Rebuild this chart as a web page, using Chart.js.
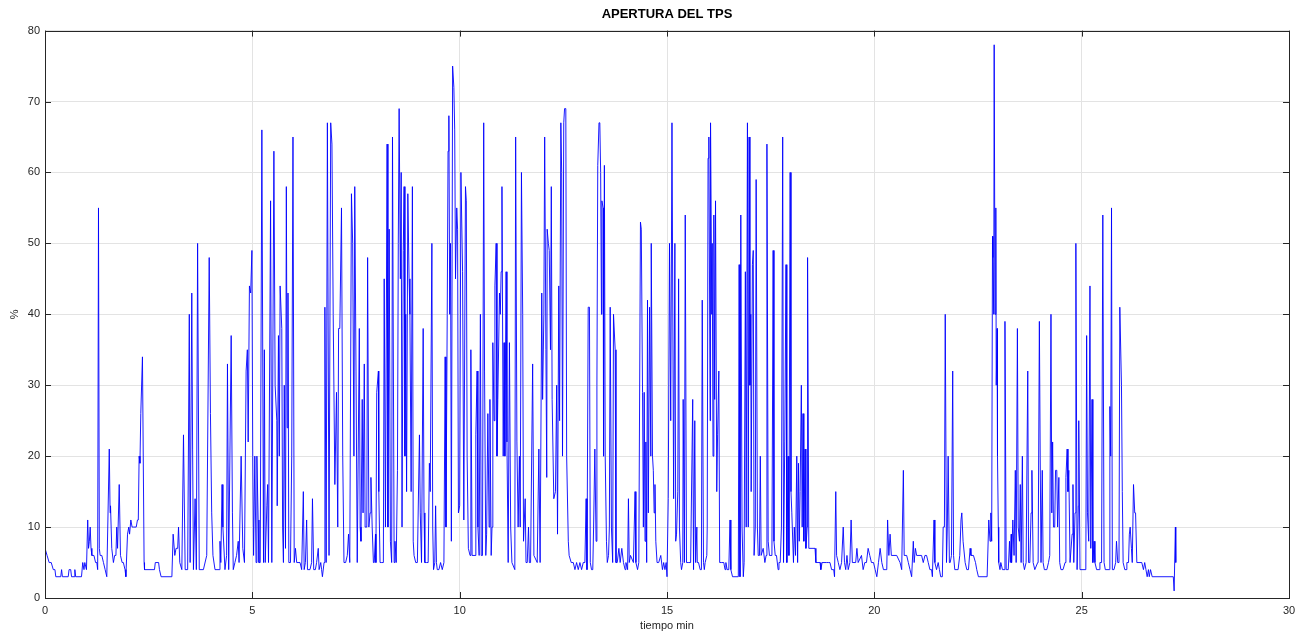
<!DOCTYPE html>
<html>
<head>
<meta charset="utf-8">
<title>APERTURA DEL TPS</title>
<script src="https://cdn.jsdelivr.net/npm/chart.js@4.4.1/dist/chart.umd.min.js"></script>
<style>
    html, body { margin: 0; padding: 0; background: #ffffff; }
    #wrap { width: 1307px; height: 634px; }
</style>
</head>
<body>
<div id="wrap"><canvas id="tpsChart" width="1307" height="634"></canvas></div>
<script>
// tiempo (min) / apertura TPS (%), por tramos
const tiempoA = [0,0.05,0.1,0.15,0.2,0.24,0.26,0.38,0.40,0.42, 0.56,0.58,0.62,0.64,0.70,0.72,0.74,0.88,0.91,0.94, 0.96,1.0,1.03,1.05,1.07,1.09,1.11,1.13,1.18,1.22, 1.25,1.27,1.29,1.31,1.33,1.37,1.41,1.45,1.49,1.55, 1.57,1.58,1.61,1.65,1.68,1.71,1.73,1.75,1.79,1.82, 1.86,1.89,1.93,1.95,1.99,2.02,2.04,2.07,2.10,2.13, 2.2,2.23,2.25,2.27,2.29,2.31,2.35,2.39,2.40,2.64, 2.66,2.74,2.76,2.80,3.06];
const tpsA    = [7,6,5,5,4,4,3,3,4,3, 3,4,4,3,3,4,3,3,5,4, 5,4,11,7,8,10,7,6,6,5, 5,4,55,7,6,6,5,4,3,21, 12,13,7,5,6,6,10,7,16,6, 5,5,4,3,9,10,9,11,10,10, 10,11,11,20,19,26,34,5,4,4, 5,5,4,3,3];

const tiempoB = [3.09,3.13,3.16,3.20,3.22,3.25,3.30,3.34,3.38,3.44, 3.48,3.50,3.54,3.56,3.58,3.62,3.65,3.68,3.72,3.82, 3.90,3.96,3.99,4.02,4.05,4.1,4.2,4.22,4.24,4.27, 4.29,4.34,4.38,4.40,4.43,4.49,4.52,4.54,4.58,4.62, 4.66,4.68,4.73,4.77,4.81,4.85,4.88,4.90,4.93,4.96, 4.99,5.01,5.03];
const tpsB    = [9,6,7,7,10,5,4,23,4,4, 40,5,43,21,4,14,4,50,4,4, 6,48,26,12,6,4,4,8,5,16, 10,4,6,33,4,37,12,4,5,6, 8,5,20,7,5,32,35,22,44,43, 49,20,6];

const tiempoC = [5.06,5.09,5.11,5.14,5.16,5.19,5.23,5.27,5.29,5.31, 5.35,5.37,5.39,5.44,5.47,5.52,5.55,5.59,5.60,5.63, 5.65,5.67,5.71,5.73,5.75,5.77,5.80,5.82,5.84,5.86, 5.88,5.92,5.95,5.98,6.01,6.04,6.07,6.15,6.19,6.23, 6.25,6.28,6.31,6.33,6.39,6.43,6.45,6.48,6.52,6.55, 6.59,6.61,6.65,6.67,6.69,6.73,6.75,6.78,6.81,6.85, 6.89,6.92,6.95,6.99,7.03,7.06,7.08,7.11,7.15,7.18, 7.21,7.25,7.29,7.32,7.35,7.39,7.42,7.45,7.47,7.50, 7.53,7.58];
const tpsC    = [20,5,20,11,5,5,66,5,35,5, 13,16,5,56,5,63,30,25,13,37, 20,44,38,10,5,30,7,58,24,43, 5,5,20,65,5,7,5,5,4,15, 4,5,11,4,4,5,14,4,4,5, 7,4,5,4,3,5,41,5,67,6, 67,64,40,16,29,10,38,38,55,20, 5,5,6,9,5,57,50,20,58,32, 5,38];

const tiempoD = [7.60,7.62,7.65,7.67,7.70,7.72,7.76,7.78,7.81,7.84, 7.86,7.89,7.92,7.94,7.97,7.98,8.0,8.04,8.05,8.08, 8.12,8.16,8.18,8.21,8.25,8.27,8.30,8.33,8.36,8.38, 8.42,8.44,8.47,8.50,8.52,8.54,8.57,8.59,8.61,8.64, 8.66,8.68,8.70,8.72,8.75,8.78,8.80,8.83,8.86,8.88, 8.90,8.94,8.98,9.03,9.05,9.08,9.12,9.14,9.16,9.20, 9.24,9.27,9.29,9.33,9.35,9.37,9.40,9.42,9.44,9.46, 9.50,9.54,9.58,9.62,9.65,9.67,9.70,9.72,9.74,9.76, 9.78,9.80,9.83,9.86,9.88,9.90,9.93,9.95,9.97,10.0, 10.03];
const tpsD    = [10,8,28,12,33,10,10,48,10,12, 17,10,5,5,9,5,29,32,15,5, 5,5,45,10,64,10,52,8,5,65, 5,8,5,18,50,69,45,60,10,49, 58,20,40,15,57,45,40,15,58,8, 6,5,5,23,12,5,38,12,5,5, 5,19,15,50,10,4,5,13,5,4, 4,5,4,5,34,10,40,63,68,40, 50,8,75,72,66,45,55,52,12,13, 60];

const tiempoE = [10.07,10.10,10.14,10.16,10.18,10.21,10.25,10.27,10.30,10.37, 10.39,10.42,10.44,10.47,10.50,10.52,10.55,10.58,10.60,10.63, 10.65,10.68,10.71,10.73,10.76,10.78,10.80,10.83,10.85,10.88, 10.90,10.92,10.96,10.98,11.0,11.02,11.05,11.07,11.09,11.12, 11.14,11.17,11.20,11.23,11.26,11.33,11.35,11.38,11.41,11.44, 11.46,11.49,11.52,11.54,11.58,11.60,11.63,11.66,11.68,11.71, 11.76,11.79,11.87,11.91,11.94,11.98,12.0,12.03,12.05,12.08, 12.10,12.11,12.14,12.16,12.19,12.21,12.23,12.27,12.31,12.34, 12.36,12.39,12.41,12.44,12.46,12.48,12.51,12.53,12.56,12.58, 12.62];
const tpsE    = [46,11,58,56,20,7,6,35,6,6, 23,32,10,6,40,6,6,67,32,6, 9,26,10,28,6,10,36,25,44,50, 20,28,43,40,46,58,20,36,20,46, 22,5,36,10,5,4,65,22,10,20, 10,60,40,8,14,5,5,10,5,5, 33,6,5,21,5,43,28,40,65,35, 17,52,50,49,35,58,28,14,15,30, 9,44,25,67,60,20,67,69,69,20, 8];

const tiempoF = [12.64,12.69,12.74,12.78,12.82,12.86,12.90,12.94,12.98,13.02, 13.05,13.07,13.10,13.13,13.15,13.18,13.21,13.23,13.26,13.29, 13.31,13.33,13.36,13.38,13.40,13.42,13.43,13.46,13.47,13.49, 13.51,13.54,13.56,13.59,13.61,13.63,13.66,13.69,13.71,13.75, 13.77,13.80,13.84,13.87,13.91,13.95,13.99,14.01,14.05,14.07, 14.09,14.12,14.19,14.23,14.25,14.29,14.32,14.36,14.38,14.41, 14.43,14.45,14.47,14.49,14.51,14.53,14.55,14.58,14.61,14.62, 14.65,14.67,14.69,14.71,14.73,14.76,14.80,14.85,14.89,14.92, 14.95,14.98,15.0,15.03,15.06,15.09];
const tpsF    = [6,5,5,4,5,4,5,4,5,5, 14,4,41,41,5,4,4,10,21,8, 30,61,67,67,60,40,56,55,20,61, 20,8,5,6,10,41,10,5,40,35, 5,5,7,5,7,5,4,5,4,14, 5,6,5,15,5,4,5,53,52,29, 10,29,8,22,5,42,12,41,20,50, 20,18,12,16,8,5,5,6,4,5, 4,5,3,14,50,25];

const tiempoG = [15.12,15.16,15.19,15.21,15.23,15.26,15.28,15.30,15.33,15.35, 15.38,15.39,15.42,15.44,15.47,15.51,15.57,15.62,15.64,15.67, 15.69,15.72,15.73,15.76,15.80,15.83,15.85,15.88,15.90,15.92, 15.96,15.97,15.99,16.01,16.04,16.05,16.08,16.09,16.11,16.13, 16.15,16.17,16.20,16.22,16.25,16.27,16.32,16.37,16.40,16.42, 16.45,16.49,16.52,16.54,16.58,16.72,16.74,16.76,16.78,16.81, 16.84,16.86,16.89,16.91,16.94,16.96,16.98,17.00,17.02,17.03, 17.06,17.08,17.10,17.13,17.15,17.18,17.20,17.23,17.25,17.27, 17.32,17.36,17.39,17.41,17.44,17.47,17.53,17.56,17.58,17.61, 17.64,17.68];
const tpsG    = [67,14,50,8,9,15,45,10,5,4, 5,28,5,54,5,5,5,28,4,25, 5,10,5,5,4,4,42,5,4,5, 6,10,62,65,25,67,40,50,20,54, 28,56,15,23,32,5,5,5,4,5, 4,4,11,4,3,3,47,3,54,10, 3,5,46,10,67,10,65,30,40,15, 47,49,6,10,59,10,6,6,20,6, 7,5,6,64,8,6,6,49,8,6, 6,4];

const tiempoH = [17.70,17.73,17.76,17.79,17.81,17.84,17.87,17.89,17.92,17.94, 17.97,17.99,18.01,18.05,18.07,18.10,18.13,18.15,18.17,18.19, 18.21,18.24,18.26,18.28,18.30,18.33,18.35,18.38,18.39,18.42, 18.57,18.59,18.69,18.71,18.74,18.85,18.89,18.93,18.97,19.02, 19.04,19.07,19.09,19.13,19.17,19.21,19.25,19.28,19.31,19.34, 19.37,19.41,19.44,19.47,19.55,19.58,19.61,19.69,19.73,19.77, 19.81,19.85,19.89,19.93,19.98,20.02,20.06,20.10,20.14];
const tpsH    = [5,5,10,65,5,22,47,5,20,6, 60,15,12,5,10,6,20,5,19,8, 15,30,10,26,8,21,7,10,48,7, 7,5,5,4,5,5,5,5,4,4, 3,15,6,5,4,5,10,5,4,6, 4,5,11,5,5,7,5,6,4,5, 5,7,6,5,5,4,3,5,7];

const tiempoI = [20.18,20.22,20.26,20.30,20.32,20.35,20.38,20.41,20.54,20.62, 20.66,20.70,20.72,20.78,20.82,20.86,20.90,20.94,20.96,20.99, 21.02,21.14,21.18,21.22,21.26,21.30,21.34,21.38,21.40,21.44, 21.46,21.50,21.54,21.57,21.60,21.64,21.66,21.69,21.71,21.74, 21.76,21.78,21.81,21.83,21.86,21.89,21.91,21.94,22.02,22.06, 22.09,22.11,22.14,22.16,22.19,22.23,22.27,22.31,22.33,22.39, 22.44,22.47,22.51,22.72,22.76];
const tpsI    = [5,4,4,4,11,6,9,6,6,5, 4,18,6,6,5,4,3,8,5,7, 6,6,5,6,6,5,4,4,3,11, 5,4,5,4,3,3,10,10,40,5, 10,20,5,5,6,32,6,4,4,6, 11,12,8,8,5,4,4,7,6,6, 5,4,3,3,11];

const tiempoJ = [22.79,22.81,22.83,22.85,22.86,22.88,22.89,22.91,22.93,22.94, 22.96,22.97,22.99,23.00,23.03,23.05,23.09,23.13,23.15,23.18, 23.23,23.26,23.28,23.30,23.31,23.34,23.37,23.40,23.42,23.45, 23.47,23.50,23.52,23.54,23.57,23.59,23.62,23.66,23.70,23.72, 23.75,23.78,23.80,23.83,23.85,23.87,23.94,23.95,23.98,24.00, 24.02,24.05,24.07,24.10,24.16,24.20,24.23,24.26,24.28,24.30, 24.32,24.35,24.37,24.40,24.42,24.45,24.47,24.50,24.55,24.60, 24.62,24.65,24.67,24.69,24.72,24.74,24.77,24.79,24.81,24.84, 24.86,24.89,24.92,24.93,24.96,25.10,25.12,25.14,25.17,25.20, 25.22,25.25,25.27];
const tpsJ    = [8,12,8,51,48,40,78,40,55,30, 38,20,10,5,4,5,4,4,39,4, 4,8,5,9,5,11,6,18,5,38, 10,8,16,5,20,5,4,5,32,5, 5,12,18,5,5,4,5,5,39,20, 5,18,5,4,4,5,6,40,12,22, 10,10,18,18,10,17,5,4,4,5, 17,21,15,18,5,5,9,16,5,12, 50,4,13,25,4,4,37,12,8,44, 7,28,5];

const tiempoK = [25.30,25.32,25.36,25.43,25.44,25.48,25.51,25.54,25.57,25.67, 25.68,25.70,25.72,25.74,25.78,25.82,25.84,25.87,25.90,25.92, 25.96,25.98,26.00,26.04,26.07,26.09,26.13,26.15,26.17,26.20, 26.22,26.25,26.28,26.30,26.33,26.45,26.49,26.52,26.55,26.58, 26.61,26.63,26.66,26.70,27.21,27.23,27.26,27.27];
const tpsK    = [8,5,4,4,5,5,54,5,4,4, 27,20,55,4,4,5,8,5,5,41, 30,15,5,4,4,5,5,9,10,7, 5,16,12,12,5,5,4,5,4,3, 4,3,4,3,3,1,10,5];

const xTicks = [0, 5, 10, 15, 20, 25, 30];
const yTicks = [0, 10, 20, 30, 40, 50, 60, 70, 80];

const tiempo = [].concat(tiempoA, tiempoB, tiempoC, tiempoD, tiempoE, tiempoF, tiempoG, tiempoH, tiempoI, tiempoJ, tiempoK);
const apertura = [].concat(tpsA, tpsB, tpsC, tpsD, tpsE, tpsF, tpsG, tpsH, tpsI, tpsJ, tpsK);
if (tiempo.length !== apertura.length) {
    console.warn('length mismatch', tiempo.length, apertura.length);
}

const axisColor = '#262626';
const gridColor = '#e3e3e3';
const fontFamily = 'Liberation Sans, Arial, sans-serif';

// Box around the plot area with inward tick marks (matlab style)
const axesBox = {
    id: 'axesBox',
    afterDraw(chart) {
        const { ctx, chartArea: a, scales } = chart;
        ctx.save();
        ctx.strokeStyle = axisColor;
        ctx.lineWidth = 1;
        ctx.strokeRect(Math.round(a.left) + 0.5, Math.round(a.top) + 0.5,
            Math.round(a.right - a.left), Math.round(a.bottom - a.top));
        ctx.beginPath();
        xTicks.forEach(v => {
            const px = Math.round(scales.x.getPixelForValue(v)) + 0.5;
            ctx.moveTo(px, a.bottom); ctx.lineTo(px, a.bottom - 6);
            ctx.moveTo(px, a.top); ctx.lineTo(px, a.top + 6);
        });
        yTicks.forEach(v => {
            const py = Math.round(scales.y.getPixelForValue(v)) + 0.5;
            ctx.moveTo(a.left, py); ctx.lineTo(a.left + 6, py);
            ctx.moveTo(a.right, py); ctx.lineTo(a.right - 6, py);
        });
        ctx.stroke();
        ctx.restore();
    }
};

const ctx = document.getElementById('tpsChart').getContext('2d');
new Chart(ctx, {
    type: 'line',
    data: {
        datasets: [{
            label: 'TPS',
            data: tiempo.map((t, i) => ({ x: t, y: apertura[i] })),
            borderColor: '#0000ff',
            borderWidth: 0.9,
            pointRadius: 0,
            tension: 0,
            fill: false
        }]
    },
    options: {
        responsive: false,
        animation: false,
        layout: { padding: { left: 0, right: 18, top: 0, bottom: 0 } },
        plugins: {
            legend: { display: false },
            tooltip: { enabled: false },
            title: {
                display: true,
                fullSize: false,
                text: 'APERTURA DEL TPS',
                color: '#000000',
                font: { family: fontFamily, size: 13, weight: 'bold' },
                padding: { top: 7, bottom: 8 }
            }
        },
        scales: {
            x: {
                type: 'linear',
                min: 0,
                max: 30,
                afterFit: s => { s.height = 36; },
                afterBuildTicks: s => { s.ticks = xTicks.map(v => ({ value: v })); },
                grid: { color: gridColor, drawTicks: false },
                border: { display: false },
                ticks: {
                    color: axisColor,
                    padding: 6,
                    font: { family: fontFamily, size: 11 }
                },
                title: {
                    display: true,
                    text: 'tiempo min',
                    color: axisColor,
                    padding: { top: 0, bottom: 1 },
                    font: { family: fontFamily, size: 11 }
                }
            },
            y: {
                min: 0,
                max: 80,
                afterFit: s => { s.width = 45; },
                afterBuildTicks: s => { s.ticks = yTicks.map(v => ({ value: v })); },
                grid: { color: gridColor, drawTicks: false },
                border: { display: false },
                ticks: {
                    color: axisColor,
                    padding: 5,
                    font: { family: fontFamily, size: 11 }
                },
                title: {
                    display: true,
                    text: '%',
                    color: axisColor,
                    padding: { top: 8, bottom: 0 },
                    font: { family: fontFamily, size: 11 }
                }
            }
        }
    },
    plugins: [axesBox]
});
</script>
</body>
</html>
